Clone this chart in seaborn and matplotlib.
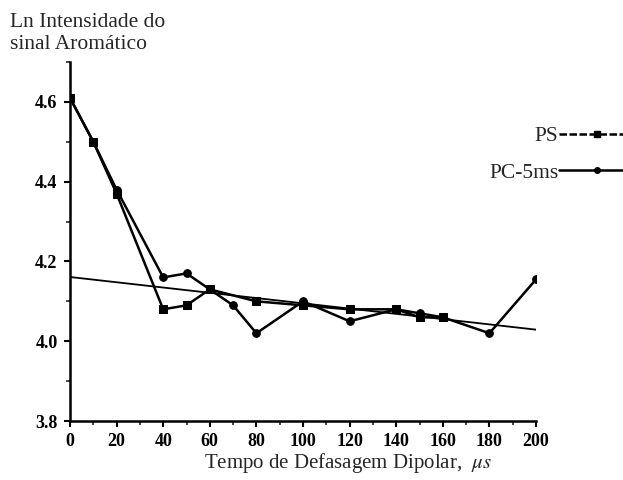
import matplotlib
matplotlib.use("Agg")
import matplotlib.pyplot as plt
from matplotlib.lines import Line2D
from matplotlib.ticker import MultipleLocator
import numpy as np
import pandas as pd
import seaborn as sns

# Dipolar dephasing time (microseconds) and ln of aromatic signal intensity
ps_time = [0, 10, 20, 40, 50, 60, 80, 100, 120, 140, 150, 160]
ps_ln = [4.61, 4.50, 4.37, 4.08, 4.09, 4.13, 4.10, 4.09, 4.08, 4.08, 4.06, 4.06]

pc_time = [0, 10, 20, 40, 50, 60, 70, 80, 100, 120, 140, 150, 160, 180, 200]
pc_ln = [4.61, 4.50, 4.38, 4.16, 4.17, 4.13, 4.09, 4.02, 4.10, 4.05, 4.08,
         4.07, 4.06, 4.02, 4.155]

# Straight-line fit of the slow-decay region
fit_intercept = 4.161
fit_slope = -0.00066
fit_range = [0, 200]

series_labels = ["PS", "PC-5ms"]
x_ticks = list(range(0, 201, 20))
y_ticks = [3.8, 4.0, 4.2, 4.4, 4.6]

sns.set_style("ticks")
plt.rcParams["font.family"] = ["Liberation Serif", "DejaVu Serif"]
plt.rcParams["mathtext.fontset"] = "stix"

fig = plt.figure(figsize=(6.23, 4.80), dpi=100)
ax = fig.add_axes([70 / 623, 1 - 421 / 480, (536 - 70) / 623, (421 - 62) / 480])

df_ps = pd.DataFrame({"t": ps_time, "ln": ps_ln})
df_pc = pd.DataFrame({"t": pc_time, "ln": pc_ln})

sns.lineplot(data=df_ps, x="t", y="ln", ax=ax, color="black", lw=1.8,
             marker="s", markersize=6, markeredgecolor="black", zorder=3)
sns.lineplot(data=df_pc, x="t", y="ln", ax=ax, color="black", lw=1.8,
             marker="o", markersize=5.5, markeredgecolor="black", zorder=3)

fit_x = np.array(fit_range, dtype=float)
ax.plot(fit_x, fit_intercept + fit_slope * fit_x, color="black", lw=1.3, zorder=2)

ax.set_xlim(0, 200)
ax.set_ylim(3.8, 4.7)
ax.set_xticks(x_ticks)
ax.set_yticks(y_ticks)
ax.set_yticklabels([f"{v:.1f}" for v in y_ticks])
ax.xaxis.set_minor_locator(MultipleLocator(10))
ax.yaxis.set_minor_locator(MultipleLocator(0.1))
ax.set_xlabel("")
ax.set_ylabel("")

for side in ("top", "right"):
    ax.spines[side].set_visible(False)
for side in ("left", "bottom"):
    ax.spines[side].set_linewidth(1.8)
    ax.spines[side].set_color("black")

ax.tick_params(which="major", direction="out", length=4, width=1.5,
               labelsize=13, colors="black")
ax.tick_params(axis="x", which="major", pad=5)
ax.tick_params(axis="y", which="major", pad=5)
ax.tick_params(which="minor", direction="out", length=3, width=1.2)
for lab in ax.get_xticklabels() + ax.get_yticklabels():
    lab.set_fontweight("bold")

# Legend: label text to the left of the sample line
handles = [
    Line2D([], [], color="black", lw=1.8, marker="s", markersize=5,
           linestyle=(0, (3, 1))),
    Line2D([], [], color="black", lw=1.8, marker="o", markersize=4),
]
leg = fig.legend(handles, series_labels, loc="upper left",
                 bbox_to_anchor=(489 / 623, 1 - 126 / 480),
                 markerfirst=False, frameon=False, fontsize=15.5,
                 handlelength=3.5, handletextpad=0.05, labelspacing=0.78,
                 borderaxespad=0, borderpad=0)
for t in leg.get_texts():
    t.set_ha("right")

fig.text(10 / 623, 1 - 13 / 480, "Ln Intensidade do\nsinal Aromático",
         ha="left", va="top", fontsize=15.5, linespacing=1.2)
fig.text(348 / 623, 1 - 468 / 480, r"Tempo de Defasagem Dipolar,  $\mu s$",
         ha="center", va="baseline", fontsize=15)

fig.savefig("out.png", dpi=100, facecolor="white")
